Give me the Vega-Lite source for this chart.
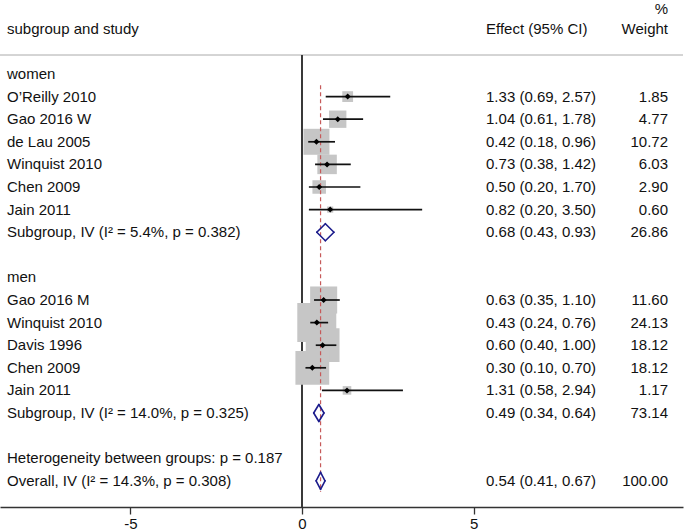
{
  "$schema": "https://vega.github.io/schema/vega-lite/v6.json",
  "width": 683,
  "height": 507,
  "autosize": "none",
  "padding": {"left": 0, "right": 2, "top": 0, "bottom": 24},
  "background": "white",
  "view": {"stroke": null},
  "config": {"text": {"font": "Liberation Sans", "fontSize": 15, "color": "#111111"}},
  "data": {
    "values": [
      {"k": -2.87, "wt": "%"},
      {"k": -2, "label": "subgroup and study", "ci": "Effect (95% CI)", "wt": "Weight"},
      {"k": 0, "label": "women"},
      {"k": 1, "label": "O’Reilly 2010", "type": "study", "est": 1.33, "lo": 0.69, "hi": 2.57, "w": 1.85, "ci": "1.33 (0.69, 2.57)", "wt": "1.85"},
      {"k": 2, "label": "Gao 2016 W", "type": "study", "est": 1.04, "lo": 0.61, "hi": 1.78, "w": 4.77, "ci": "1.04 (0.61, 1.78)", "wt": "4.77"},
      {"k": 3, "label": "de Lau 2005", "type": "study", "est": 0.42, "lo": 0.18, "hi": 0.96, "w": 10.72, "ci": "0.42 (0.18, 0.96)", "wt": "10.72"},
      {"k": 4, "label": "Winquist 2010", "type": "study", "est": 0.73, "lo": 0.38, "hi": 1.42, "w": 6.03, "ci": "0.73 (0.38, 1.42)", "wt": "6.03"},
      {"k": 5, "label": "Chen 2009", "type": "study", "est": 0.50, "lo": 0.20, "hi": 1.70, "w": 2.90, "ci": "0.50 (0.20, 1.70)", "wt": "2.90"},
      {"k": 6, "label": "Jain 2011", "type": "study", "est": 0.82, "lo": 0.20, "hi": 3.50, "w": 0.60, "ci": "0.82 (0.20, 3.50)", "wt": "0.60"},
      {"k": 7, "label": "Subgroup, IV (I² = 5.4%, p = 0.382)", "type": "subgroup", "est": 0.68, "lo": 0.43, "hi": 0.93, "w": 26.86, "ci": "0.68 (0.43, 0.93)", "wt": "26.86"},
      {"k": 9, "label": "men"},
      {"k": 10, "label": "Gao 2016 M", "type": "study", "est": 0.63, "lo": 0.35, "hi": 1.10, "w": 11.60, "ci": "0.63 (0.35, 1.10)", "wt": "11.60"},
      {"k": 11, "label": "Winquist 2010", "type": "study", "est": 0.43, "lo": 0.24, "hi": 0.76, "w": 24.13, "ci": "0.43 (0.24, 0.76)", "wt": "24.13"},
      {"k": 12, "label": "Davis 1996", "type": "study", "est": 0.60, "lo": 0.40, "hi": 1.00, "w": 18.12, "ci": "0.60 (0.40, 1.00)", "wt": "18.12"},
      {"k": 13, "label": "Chen 2009", "type": "study", "est": 0.30, "lo": 0.10, "hi": 0.70, "w": 18.12, "ci": "0.30 (0.10, 0.70)", "wt": "18.12"},
      {"k": 14, "label": "Jain 2011", "type": "study", "est": 1.31, "lo": 0.58, "hi": 2.94, "w": 1.17, "ci": "1.31 (0.58, 2.94)", "wt": "1.17"},
      {"k": 15, "label": "Subgroup, IV (I² = 14.0%, p = 0.325)", "type": "subgroup", "est": 0.49, "lo": 0.34, "hi": 0.64, "w": 73.14, "ci": "0.49 (0.34, 0.64)", "wt": "73.14"},
      {"k": 17, "label": "Heterogeneity between groups: p = 0.187"},
      {"k": 18, "label": "Overall, IV (I² = 14.3%, p = 0.308)", "type": "overall", "est": 0.54, "lo": 0.41, "hi": 0.67, "w": 100.0, "ci": "0.54 (0.41, 0.67)", "wt": "100.00"}
    ]
  },
  "encoding": {
    "y": {"field": "k", "type": "quantitative", "scale": {"domain": [-3.274, 19.159], "reverse": true, "nice": false, "zero": false}, "axis": null}
  },
  "layer": [
    {
      "mark": {"type": "rule", "color": "#d4d4d4", "strokeWidth": 1},
      "encoding": {
        "y": {"datum": -0.84, "type": "quantitative", "scale": {"domain": [-3.274, 19.159], "reverse": true, "nice": false, "zero": false}, "axis": null}
      }
    },
    {
      "mark": {"type": "rule", "color": "#3a3a3a", "strokeWidth": 1.5},
      "encoding": {
        "x": {"datum": 0, "type": "quantitative", "scale": {"domain": [-8.8, 11.1], "nice": false, "zero": false},
              "axis": {"values": [-5, 0, 5], "title": null, "grid": false, "domainColor": "#333333", "domainWidth": 1.3, "tickColor": "#333333", "tickWidth": 1.3, "tickSize": 7, "labelPadding": 2, "labelFont": "Liberation Sans", "labelFontSize": 15, "labelColor": "#111111", "labelFlush": false, "labelExpr": "replace(datum.label, '−', '-')"}},
        "y": {"datum": -0.84, "type": "quantitative", "scale": {"domain": [-3.274, 19.159], "reverse": true, "nice": false, "zero": false}, "axis": null},
        "y2": {"datum": 19.159}
      }
    },
    {
      "transform": [{"filter": "datum.type == 'study'"}],
      "mark": {"type": "square", "filled": true, "color": "#c6c6c6", "opacity": 1},
      "encoding": {
        "x": {"field": "est", "type": "quantitative", "scale": {"domain": [-8.8, 11.1], "nice": false, "zero": false}},
        "size": {"field": "w", "type": "quantitative", "scale": {"type": "linear", "domain": [0, 24.13], "range": [0, 1521], "zero": true}, "legend": null}
      }
    },
    {
      "transform": [{"filter": "datum.type == 'overall'"}],
      "mark": {"type": "rule", "color": "#c65a5a", "strokeWidth": 1.2, "strokeDash": [4, 3]},
      "encoding": {
        "x": {"field": "est", "type": "quantitative", "scale": {"domain": [-8.8, 11.1], "nice": false, "zero": false}},
        "y": {"datum": 0.5, "type": "quantitative", "scale": {"domain": [-3.274, 19.159], "reverse": true, "nice": false, "zero": false}, "axis": null},
        "y2": {"datum": 18.5}
      }
    },
    {
      "transform": [{"filter": "datum.type == 'study'"}],
      "mark": {"type": "rule", "color": "#111111", "strokeWidth": 1.7},
      "encoding": {
        "x": {"field": "lo", "type": "quantitative", "scale": {"domain": [-8.8, 11.1], "nice": false, "zero": false}},
        "x2": {"field": "hi"}
      }
    },
    {
      "transform": [{"filter": "datum.type == 'study'"}],
      "mark": {"type": "point", "shape": "diamond", "filled": true, "color": "#000000", "opacity": 1, "size": 36},
      "encoding": {
        "x": {"field": "est", "type": "quantitative", "scale": {"domain": [-8.8, 11.1], "nice": false, "zero": false}}
      }
    },
    {
      "transform": [{"filter": "datum.type == 'subgroup' || datum.type == 'overall'"}],
      "mark": {"type": "rule", "color": "#1c1c8c", "strokeWidth": 1.6, "strokeCap": "round", "y2Offset": -8.5},
      "encoding": {
        "x": {"field": "lo", "type": "quantitative", "scale": {"domain": [-8.8, 11.1], "nice": false, "zero": false}},
        "x2": {"field": "est"},
        "y2": {"field": "k"}
      }
    },
    {
      "transform": [{"filter": "datum.type == 'subgroup' || datum.type == 'overall'"}],
      "mark": {"type": "rule", "color": "#1c1c8c", "strokeWidth": 1.6, "strokeCap": "round", "y2Offset": 8.5},
      "encoding": {
        "x": {"field": "lo", "type": "quantitative", "scale": {"domain": [-8.8, 11.1], "nice": false, "zero": false}},
        "x2": {"field": "est"},
        "y2": {"field": "k"}
      }
    },
    {
      "transform": [{"filter": "datum.type == 'subgroup' || datum.type == 'overall'"}],
      "mark": {"type": "rule", "color": "#1c1c8c", "strokeWidth": 1.6, "strokeCap": "round", "yOffset": -8.5},
      "encoding": {
        "x": {"field": "est", "type": "quantitative", "scale": {"domain": [-8.8, 11.1], "nice": false, "zero": false}},
        "x2": {"field": "hi"},
        "y2": {"field": "k"}
      }
    },
    {
      "transform": [{"filter": "datum.type == 'subgroup' || datum.type == 'overall'"}],
      "mark": {"type": "rule", "color": "#1c1c8c", "strokeWidth": 1.6, "strokeCap": "round", "yOffset": 8.5},
      "encoding": {
        "x": {"field": "est", "type": "quantitative", "scale": {"domain": [-8.8, 11.1], "nice": false, "zero": false}},
        "x2": {"field": "hi"},
        "y2": {"field": "k"}
      }
    },
    {
      "transform": [{"filter": "datum.label != null"}],
      "mark": {"type": "text", "align": "left", "baseline": "middle"},
      "encoding": {
        "x": {"datum": -8.596, "type": "quantitative", "scale": {"domain": [-8.8, 11.1], "nice": false, "zero": false}},
        "text": {"field": "label"}
      }
    },
    {
      "transform": [{"filter": "datum.ci != null"}],
      "mark": {"type": "text", "align": "left", "baseline": "middle"},
      "encoding": {
        "x": {"datum": 5.361, "type": "quantitative", "scale": {"domain": [-8.8, 11.1], "nice": false, "zero": false}},
        "text": {"field": "ci"}
      }
    },
    {
      "transform": [{"filter": "datum.wt != null"}],
      "mark": {"type": "text", "align": "right", "baseline": "middle"},
      "encoding": {
        "x": {"datum": 10.664, "type": "quantitative", "scale": {"domain": [-8.8, 11.1], "nice": false, "zero": false}},
        "text": {"field": "wt"}
      }
    }
  ]
}
